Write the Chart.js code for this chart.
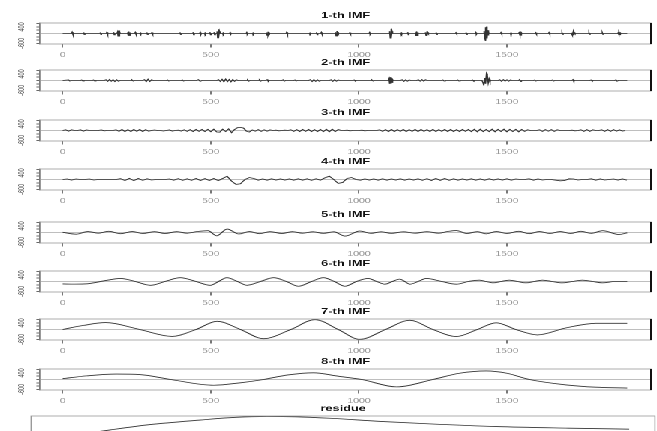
<!DOCTYPE html>
<html>
<head>
<meta charset="utf-8">
<script src="https://cdn.jsdelivr.net/npm/chart.js@4.4.1/dist/chart.umd.min.js"></script>
<style>
  html, body { margin: 0; padding: 0; background: #fff; overflow: hidden; width: 657px; height: 431px; }
  /* the reference is stretched sideways, so draw narrow and widen */
  #page { position: absolute; left: 0; top: 0; width: 438px; height: 431px; transform: scaleX(1.5); transform-origin: 0 0; }
  canvas { position: absolute; left: 0; }
</style>
</head>
<body>
<div id="page"></div>
<script>
const titles = ['1-th IMF', '2-th IMF', '3-th IMF', '4-th IMF', '5-th IMF', '6-th IMF', '7-th IMF', '8-th IMF'];
const xTicks = [0, 500, 1000, 1500];
const yTicks = [-600, -400, -200, 0, 200, 400, 600];
const yShown = [-600, 400];

// 1-th IMF: mostly flat with short bursts
const imf1T = [0,
  30,32,34,36, 69,71,73,75, 125,127,129,131, 147,149,151,153, 170,172,174,176,
  183,185,187,189,191,193,195, 217,219,221,223,225,227,229,
  243,245,247,249, 260,262,264,266, 282,284,286,288, 299,301,303,305, 394,396,398,400,
  438,440,442,444, 462,464,466,468, 478,480,482,484, 495,497,499,501, 509,511,513,515,
  519,521,523,525,527,529,531,
  539,541,543,545, 563,565,567,569, 619,621,623,625, 640,642,644,646,
  686,688,690,692,694,696,698,
  754,756,758,760, 832,834,836,838, 855,857,859,861, 871,873,875,877,
  919,921,923,925,927,929,931,
  967,969,971,973, 1034,1036,1038,1040,
  1102,1104,1106,1108,1110,1112,1114,
  1141,1143,1145,1147, 1163,1165,1167,1169,
  1189,1191,1193,1195,1197,1199,1201, 1223,1225,1227,1229,1231,1233,1235,
  1259,1261,1263,1265, 1326,1328,1330,1332, 1360,1362,1364,1366, 1393,1395,1397,1399,
  1421,1423,1425,1427,1429,1431,1433,1435,1437,1439,1441,
  1478,1480,1482,1484, 1511,1513,1515,1517,
  1539,1541,1543,1545,1547,1549,1551,
  1595,1597,1599,1601, 1640,1642,1644,1646, 1684,1686,1688,1690,
  1718,1720,1722,1724,1726,1728,1730,
  1775,1777,1779,1781, 1820,1822,1824,1826,
  1873,1875,1877,1879,1881,1883,1885,
  1906];
const imf1V = [0,
  0,80,-80,0, 0,60,-60,0, 0,60,-60,0, 0,80,-80,0, 0,80,-80,0,
  0,90,-180,180,-180,90,0, 0,60,-120,120,-120,60,0,
  0,70,-70,0, 0,70,-70,0, 0,60,-60,0, 0,60,-60,0, 0,60,-60,0,
  0,80,-80,0, 0,80,-80,0, 0,80,-80,0, 0,80,-80,0, 0,80,-80,0,
  0,130,-260,260,-260,130,0,
  0,80,-80,0, 0,60,-60,0, 0,60,-60,0, 0,70,-70,0,
  0,55,-110,110,-110,55,0,
  0,80,-80,0, 0,60,-60,0, 0,80,-80,0, 0,70,-70,0,
  0,75,-150,150,-150,75,0,
  0,50,-50,0, 0,60,-60,0,
  0,140,-280,280,-280,140,0,
  0,80,-80,0, 0,80,-80,0,
  0,65,-130,130,-130,65,0, 0,65,-130,130,-130,65,0,
  0,60,-60,0, 0,50,-50,0, 0,60,-60,0, 0,60,-60,0,
  0,150,-250,380,-450,420,-300,200,-120,60,0,
  0,60,-60,0, 0,80,-80,0,
  0,50,-100,100,-100,50,0,
  0,50,-50,0, 0,60,-60,0, 0,50,-50,0,
  0,55,-110,110,-110,55,0,
  0,50,-50,0, 0,50,-50,0,
  0,35,-70,70,-70,35,0,
  0];

// 2-th IMF
const imf2T = [0,
  20,24,28, 60,64,68,72, 100,104,108,112,
  140,146,152,158,164,170,176,182,188,194,
  230,234,238,242,
  270,276,282,288,294,300,306,
  350,354,358,362, 400,404,408,412, 452,458,464,470,
  520,526,532,538,544,550,556,562,568,574,580,586,592,
  620,624,628,632, 660,664,668,672, 686,690,694,698, 740,744,748,752, 780,784,788,792,
  830,836,842,848,854,860,866,872,
  900,906,912,918,924,930,936,
  980,984,988,992, 1040,1044,1048,1052,
  1100,1102,1104,1106,1108,1110,1112,1114,1116,
  1140,1146,1152,1158,1164,1170,1176,
  1195,1201,1207,1213,1219,1225,1231,
  1280,1284,1288,1292, 1330,1334,1338,1342, 1380,1384,1388,1392,
  1416,1419,1422,1425,1428,1431,1434,1437,1440,1443,1446,
  1470,1476,1482,1488,1494,1500,1506,1512,1518,
  1540,1543,1546,1549, 1590,1594,1598,1602, 1650,1654,1658,1662,
  1720,1723,1726,1729, 1780,1784,1788,1792, 1864,1868,1872,1876,
  1906];
const imf2V = [0,
  30,-30,0, 0,30,-30,0, 0,30,-30,0,
  0,40,-50,60,-40,50,-60,40,-40,0,
  0,30,-30,0,
  0,50,-70,80,-60,40,0,
  0,30,-30,0, 0,30,-30,0, 0,50,-50,0,
  0,50,-60,70,-80,90,-70,60,-80,60,-50,40,0,
  0,40,-40,0, 0,40,-40,0, 0,50,-50,0, 0,40,-40,0, 0,30,-30,0,
  0,50,-60,50,-50,40,-40,0,
  0,40,-50,50,-40,30,0,
  0,30,-30,0, 0,30,-30,0,
  0,100,-200,200,-200,180,-120,60,0,
  0,40,-50,40,-40,30,0,
  0,40,-40,50,-40,40,0,
  0,30,-30,0, 0,30,-30,0, 0,30,-30,0,
  0,-120,-300,150,-200,420,300,-150,100,-60,0,
  0,40,-50,50,-40,40,-40,30,0,
  0,60,-60,0, 0,30,-30,0, 0,30,-30,0,
  0,50,-50,0, 0,30,-30,0, 0,40,-40,0,
  0];

// 3-th IMF, sampled every 10
const imf3V = [
  0,40,-40,40,0,0,40,-40,30,0,
  0,0,0,30,-20,0,0,0,40,-50,
  60,-60,50,-60,60,-50,60,-60,50,-40,
  0,30,0,0,-30,0,30,-30,0,20,
  -30,40,-50,50,-60,60,-50,60,-60,70,
  -70,80,-90,-100,80,-60,100,-130,60,170,
  190,150,-40,-90,30,-40,50,-50,40,-40,
  30,0,20,-20,0,20,0,40,-50,50,
  -60,60,-50,60,-60,50,-60,60,-70,70,
  -80,80,-70,60,0,0,20,-20,0,0,
  0,20,-20,0,0,0,0,40,-50,50,
  -60,60,-60,50,-50,60,-60,50,-50,60,
  -60,60,-50,50,-60,70,-60,50,-50,60,
  -60,60,-60,50,-60,60,-50,60,-70,70,
  -80,80,-70,60,-70,80,-80,70,-60,80,
  -80,70,-60,70,-80,60,-50,40,0,0,
  0,40,-50,50,-40,50,-50,40,0,0,
  0,0,20,-20,0,40,-50,50,-50,40,
  0,0,40,-50,50,-50,50,-40,40,-30,
  0];

// 4-th IMF, sampled every 15
const imf4V = [
  0,30,-30,30,0,0,30,-30,0,0,
  0,0,0,50,-60,70,-70,60,-50,40,
  -30,0,0,0,30,-40,50,-50,40,-50,
  60,-60,50,-60,60,-70,60,200,-100,-300,
  -260,0,120,60,-40,30,-40,40,-30,30,
  -30,30,-40,40,-40,40,-50,40,-40,100,
  200,0,-240,-180,60,120,0,-40,30,-30,
  30,-40,40,-40,30,-30,40,-40,30,-30,
  40,-50,50,-60,60,-50,60,-50,40,-40,
  30,-30,40,-40,30,-40,40,-30,30,-30,
  40,-40,30,0,0,40,-40,30,-30,0,
  0,-40,-80,-60,40,30,-30,0,0,40,
  -40,30,-30,0,30,-30,30,-40];

// 5-th IMF
const imf5T = [0,45,85,120,155,195,235,270,310,345,385,420,455,490,520,555,595,630,665,700,
  740,775,810,845,880,915,953,1003,1040,1075,1110,1150,1190,1230,1270,1300,1329,1365,1400,1430,
  1465,1500,1540,1575,1610,1645,1680,1715,1750,1785,1823,1879,1906];
const imf5V = [10,-100,60,-40,70,-70,60,-60,50,-60,50,-40,60,110,-200,210,-90,60,-70,50,
  -60,50,-40,40,-50,40,-220,90,-50,40,-50,40,-40,50,-40,60,120,-60,50,-80,
  60,-60,70,-70,60,-60,60,-60,70,-50,110,-120,-20];

// 6-th IMF
const imf6T = [0,40,83,140,195,245,296,345,397,450,498,526,554,590,622,667,712,755,796,840,
  880,917,953,992,1031,1060,1088,1113,1138,1155,1172,1200,1228,1280,1329,1370,1407,1430,1452,1480,
  1508,1536,1564,1592,1620,1653,1687,1720,1755,1790,1822,1865,1906];
const imf6V = [-150,-160,-140,40,185,0,-230,0,230,0,-230,0,230,0,-230,0,230,0,-290,0,
  230,0,-290,0,185,0,-165,0,145,0,-165,0,185,0,-165,0,80,0,-80,0,
  80,0,-80,0,80,0,-80,0,80,0,-80,0,0];

// 7-th IMF
const imf7T = [0,70,145,260,369,450,521,600,678,770,852,930,1003,1090,1172,1250,1329,1400,1464,1530,1603,1700,1800,1906];
const imf7V = [0,250,420,0,-420,0,500,0,-560,0,600,0,-600,0,560,0,-430,0,410,0,-330,100,380,380];

// 8-th IMF
const imf8T = [0,80,180,260,364,510,600,678,760,847,930,1010,1127,1250,1340,1430,1500,1576,1700,1800,1906];
const imf8V = [50,220,330,300,0,-350,-200,0,280,410,200,0,-450,0,380,520,380,0,-330,-470,-520];

// residue
const resT = [0,185,317,482,600,703,800,911,1080,1241,1462,1700,1901];
const resV = [1000,1380,1620,1820,1940,1980,1965,1900,1760,1650,1530,1460,1415];

const imf3T = imf3V.map((_, i) => i * 10);
const imf4T = imf4V.map((_, i) => i * 15);

const series = [
  [imf1T, imf1V, false], [imf2T, imf2V, false], [imf3T, imf3V, false], [imf4T, imf4V, false],
  [imf5T, imf5V, true], [imf6T, imf6V, true], [imf7T, imf7V, true], [imf8T, imf8V, true]
];

const boxTops = [23, 70, 120, 169, 222, 271, 319, 369];

Chart.defaults.font.family = 'Liberation Sans';

const boxPlugin = {
  id: 'box',
  beforeDatasetsDraw(chart, args, opts) {
    const { ctx, chartArea: a } = chart;
    ctx.save();
    if (opts.zero) {
      const y0 = chart.scales.y.getPixelForValue(0);
      ctx.strokeStyle = '#a8a8a8';
      ctx.lineWidth = 0.8;
      ctx.beginPath();
      ctx.moveTo(a.left, y0);
      ctx.lineTo(a.right, y0);
      ctx.stroke();
    }
    ctx.restore();
  },
  afterDraw(chart, args, opts) {
    const { ctx, chartArea: a } = chart;
    ctx.save();
    ctx.strokeStyle = '#9a9a9a';
    ctx.lineWidth = 0.8;
    ctx.strokeRect(a.left, a.top, a.width, a.height);
    if (opts.darkRight) {
      ctx.strokeStyle = '#111';
      ctx.lineWidth = 1;
      ctx.beginPath();
      ctx.moveTo(a.right, a.top);
      ctx.lineTo(a.right, a.bottom);
      ctx.stroke();
    }
    ctx.restore();
  }
};

const page = document.getElementById('page');

function addCanvas(top, height) {
  const c = document.createElement('canvas');
  c.width = 438;
  c.height = height;
  c.style.top = top + 'px';
  page.appendChild(c);
  return c;
}

function titleOpts(text) {
  return {
    display: true,
    text: text,
    fullSize: false,
    color: '#111',
    font: { size: 8.5, weight: 'bold', lineHeight: 1.2 },
    padding: { top: 1.8, bottom: 2 }
  };
}

series.forEach((s, i) => {
  const [tArr, vArr, smooth] = s;
  const canvas = addCanvas(boxTops[i] - 14, 50);
  new Chart(canvas, {
    type: 'line',
    data: {
      datasets: [{
        data: tArr.map((t, k) => ({ x: t, y: vArr[k] })),
        borderColor: '#333',
        borderWidth: 0.85,
        pointRadius: 0,
        cubicInterpolationMode: smooth ? 'monotone' : 'default',
        tension: 0
      }]
    },
    options: {
      responsive: false,
      animation: false,
      events: [],
      devicePixelRatio: 2,
      layout: { padding: { left: 0, right: 4, top: 0, bottom: 0 } },
      plugins: {
        legend: { display: false },
        tooltip: { enabled: false },
        title: titleOpts(titles[i]),
        box: { zero: true, darkRight: true }
      },
      scales: {
        x: {
          type: 'linear', min: -76, max: 1986,
          afterBuildTicks: sc => { sc.ticks = xTicks.map(v => ({ value: v })); },
          afterFit: sc => { sc.height = 15; },
          grid: { drawOnChartArea: false, drawTicks: true, tickLength: 3.5, color: '#555', lineWidth: 0.8 },
          border: { display: false },
          ticks: {
            callback: v => String(v),
            color: '#999', font: { size: 7 }, padding: 3.2, maxRotation: 0, autoSkip: false
          }
        },
        y: {
          type: 'linear', min: -640, max: 640,
          afterBuildTicks: sc => { sc.ticks = yTicks.map(v => ({ value: v })); },
          afterFit: sc => { sc.width = 26.7; },
          grid: { drawOnChartArea: false, drawTicks: true, tickLength: 2.5, color: '#444', lineWidth: 0.8 },
          border: { display: true, color: '#444', width: 0.8 },
          ticks: {
            callback: v => yShown.includes(v) ? String(v) : '',
            color: '#555', font: { size: 5.5 }, padding: 4,
            minRotation: 90, maxRotation: 90, crossAlign: 'center', autoSkip: false
          }
        }
      }
    },
    plugins: [boxPlugin]
  });
});

// residue panel, mostly below the bottom edge
const resCanvas = addCanvas(402, 60);
new Chart(resCanvas, {
  type: 'line',
  data: {
    datasets: [{
      data: resT.map((t, k) => ({ x: t, y: resV[k] })),
      borderColor: '#333',
      borderWidth: 0.85,
      pointRadius: 0,
      cubicInterpolationMode: 'monotone'
    }]
  },
  options: {
    responsive: false,
    animation: false,
    events: [],
    devicePixelRatio: 2,
    layout: { padding: { left: 20.7, right: 1.3, top: 0, bottom: 1 } },
    plugins: {
      legend: { display: false },
      tooltip: { enabled: false },
      title: titleOpts('residue'),
      box: { zero: false, darkRight: false }
    },
    scales: {
      x: { type: 'linear', min: -76, max: 1986, display: false },
      y: { type: 'linear', min: 0, max: 2000, display: false }
    }
  },
  plugins: [boxPlugin]
});
</script>
</body>
</html>
